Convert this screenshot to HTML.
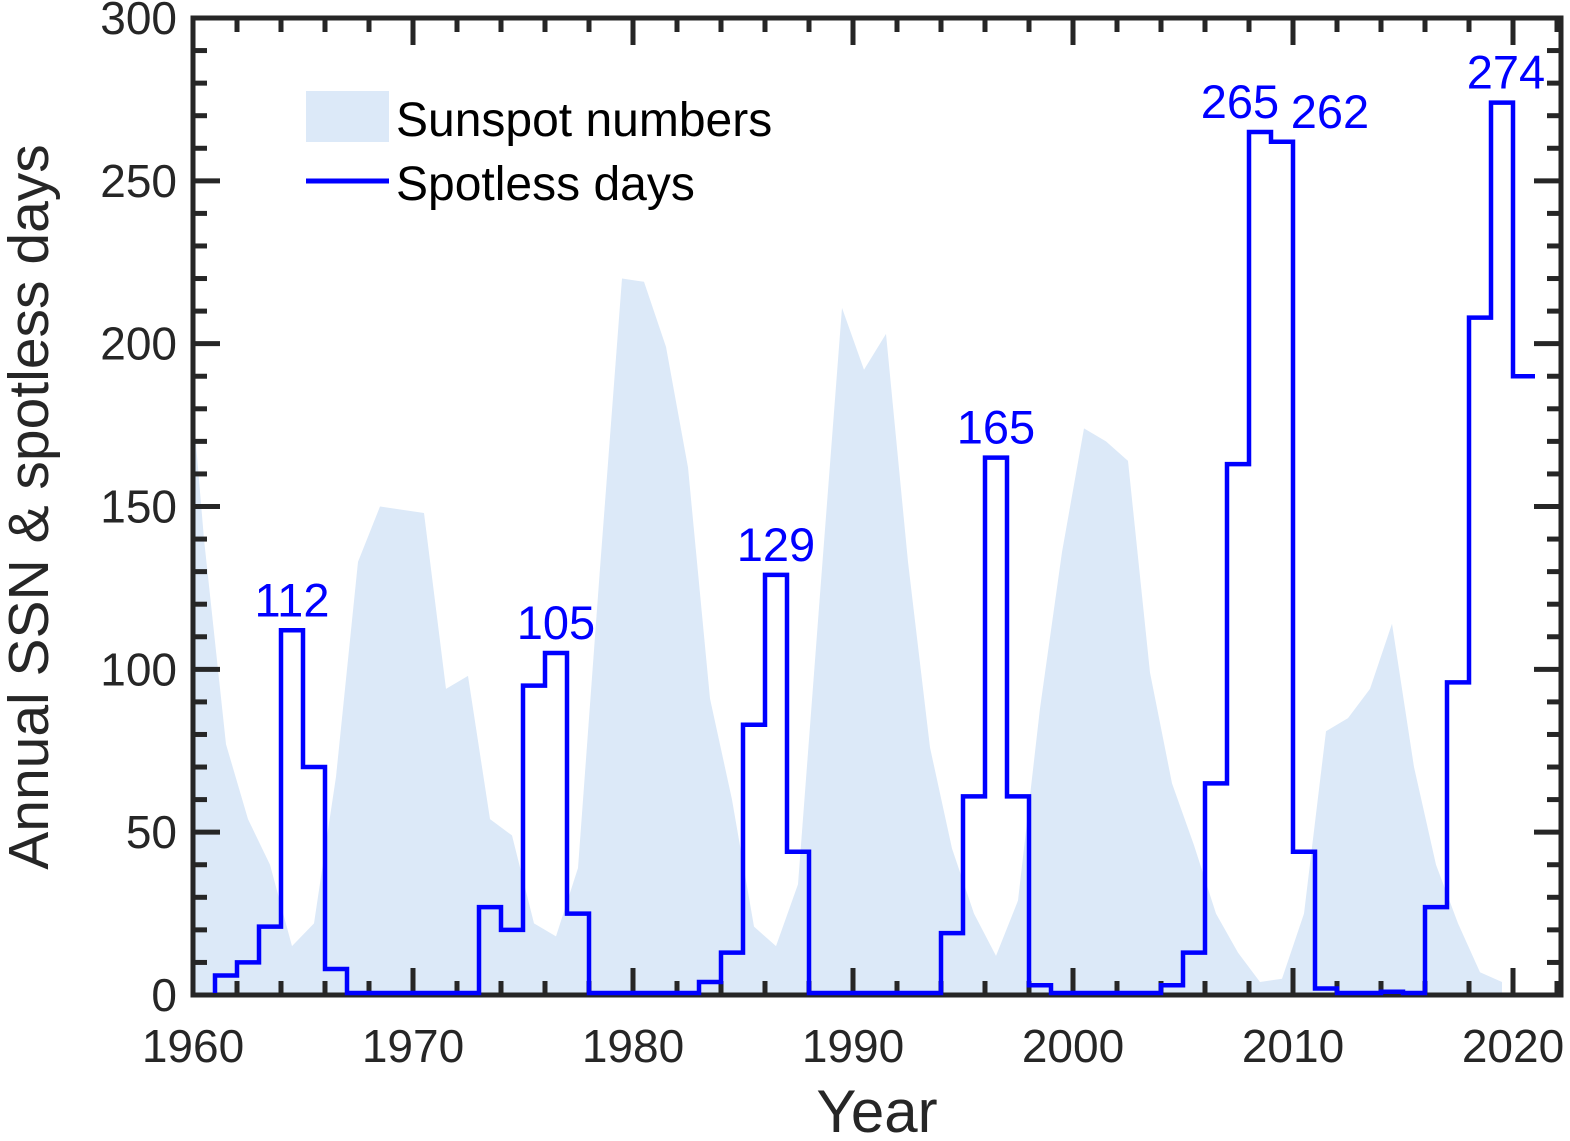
<!DOCTYPE html>
<html><head><meta charset="utf-8"><style>body{margin:0;background:#fff}svg{display:block}</style></head>
<body>
<svg id="chart" width="1570" height="1141" viewBox="0 0 1570 1141" xmlns="http://www.w3.org/2000/svg" font-family="Liberation Sans, sans-serif">
<defs><clipPath id="clip"><rect x="193" y="18" width="1368" height="977"/></clipPath></defs>
<g id="ssn" clip-path="url(#clip)"></g>
<g id="axes"></g>
<g id="spot"></g>
<g id="labels"></g>
<g>
<rect x="306" y="91" width="83" height="51" fill="#dce9f8"/>
<text x="396" y="136" font-size="48" fill="#000">Sunspot numbers</text>
<line x1="306" y1="181" x2="389" y2="181" stroke="#0000ff" stroke-width="5"/>
<text x="396" y="200" font-size="48" fill="#000">Spotless days</text>
</g>
<text x="877" y="1132" font-size="60" text-anchor="middle" fill="#262626">Year</text>
<text transform="translate(48,507) rotate(-90)" font-size="57" text-anchor="middle" fill="#262626">Annual SSN &amp; spotless days</text>
</svg>
<script>
const ssnYears=[1959,1960,1961,1962,1963,1964,1965,1966,1967,1968,1969,1970,1971,1972,1973,1974,1975,1976,1977,1978,1979,1980,1981,1982,1983,1984,1985,1986,1987,1988,1989,1990,1991,1992,1993,1994,1995,1996,1997,1998,1999,2000,2001,2002,2003,2004,2005,2006,2007,2008,2009,2010,2011,2012,2013,2014,2015,2016,2017,2018,2019];
const ssnValues=[220,140,77,54,40,15,22,67,133,150,149,148,94,98,54,49,22,18,39,131,220,219,199,162,91,60,21,15,34,123,211,192,203,133,76,45,25,12,29,88,136,174,170,164,99,65,46,25,13,4,5,25,81,85,94,114,70,40,22,7,4];
const spotYears=[1961,1962,1963,1964,1965,1966,1967,1968,1969,1970,1971,1972,1973,1974,1975,1976,1977,1978,1979,1980,1981,1982,1983,1984,1985,1986,1987,1988,1989,1990,1991,1992,1993,1994,1995,1996,1997,1998,1999,2000,2001,2002,2003,2004,2005,2006,2007,2008,2009,2010,2011,2012,2013,2014,2015,2016,2017,2018,2019,2020];
const spotValues=[6,10,21,112,70,8,0,0,0,0,0,0,27,20,95,105,25,0,0,0,0,0,4,13,83,129,44,0,0,0,0,0,0,19,61,165,61,3,0,0,0,0,0,3,13,65,163,265,262,44,2,0,0,1,0,27,96,208,274,190];
const peakYears=[1964,1976,1986,1996,2008,2009,2019];
const peakLabels=["112","105","129","165","265","262","274"];
const xTicks=[1960,1970,1980,1990,2000,2010,2020];
const yTicks=[0,50,100,150,200,250,300];
const NS="http://www.w3.org/2000/svg";
const X=v=>193+(v-1960)*22, Y=v=>995-v*977/300;
function mk(tag,attrs,parent){const e=document.createElementNS(NS,tag);for(const k in attrs)e.setAttribute(k,attrs[k]);document.getElementById(parent).appendChild(e);return e;}
let d="M"+X(ssnYears[0]+0.5)+","+Y(0);
ssnYears.forEach((y,i)=>{d+=" L"+X(y+0.5)+","+Y(ssnValues[i]);});
d+=" L"+X(ssnYears[ssnYears.length-1]+0.5)+","+Y(0)+" Z";
const area=mk("path",{d:d,fill:"#dce9f8"},"ssn");


let s="M"+X(spotYears[0])+","+(Y(0)-2);
spotYears.forEach((y,i)=>{const yy=Math.min(Y(spotValues[i]),Y(0)-2);s+=" L"+X(y)+","+yy+" L"+X(y+1)+","+yy;});
const st=mk("path",{d:s,fill:"none",stroke:"#0000ff","stroke-width":4.5},"spot");


peakYears.forEach((y,i)=>{
 const v=spotValues[spotYears.indexOf(y)];
 let cx=X(y+0.5); if(y===2008)cx-=20; if(y===2009)cx+=48; if(y===2019)cx+=4;
 const t=mk("text",{x:cx,y:Y(v)-14,"font-size":47,fill:"#0000ff","text-anchor":"middle"},"labels");
 t.textContent=peakLabels[i];
 
 
});
const ax=mk("rect",{x:193,y:18,width:1368,height:977,fill:"none",stroke:"#262626","stroke-width":5},"axes");


for(let yr=1960;yr<=2022;yr+=2){
 const major=yr%10===0, L=major?27:14, x=X(yr);
 const t1=mk("line",{x1:x,x2:x,y1:995,y2:995-L,stroke:"#262626","stroke-width":5},"axes");
 
 
 const t2=mk("line",{x1:x,x2:x,y1:18,y2:18+L,stroke:"#262626","stroke-width":5},"axes");
 
 
}
for(let v=0;v<=300;v+=10){
 const major=v%50===0, L=major?27:14, y=Y(v);
 const t1=mk("line",{x1:193,x2:193+L,y1:y,y2:y,stroke:"#262626","stroke-width":5},"axes");
 
 
 const t2=mk("line",{x1:1561,x2:1561-L,y1:y,y2:y,stroke:"#262626","stroke-width":5},"axes");
 
 
}
xTicks.forEach(v=>{const t=mk("text",{x:X(v),y:1062,"font-size":46,"text-anchor":"middle",fill:"#262626"},"axes");t.textContent=v;
 
 });
yTicks.forEach(v=>{const t=mk("text",{x:177,y:Y(v)+16,"font-size":46,"text-anchor":"end",fill:"#262626"},"axes");t.textContent=v;
 
 });
</script>
</body></html>
